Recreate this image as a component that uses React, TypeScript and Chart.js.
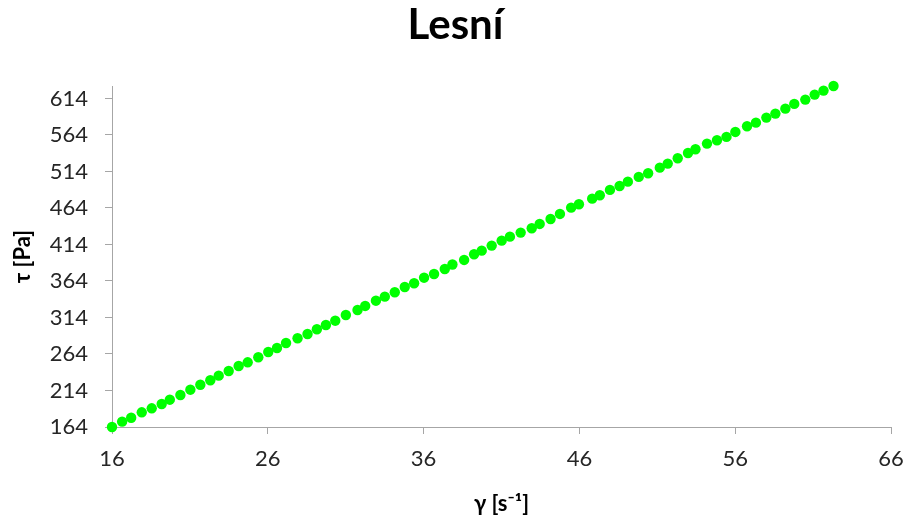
import React, { useEffect, useRef } from "react";
import { Chart, registerables } from "chart.js";

Chart.register(...registerables);

const chartTitle = "Lesní";
const xAxisTitle = "γ [s⁻¹]";
const yAxisTitle = "τ [Pa]";

const gamma = [
  16.0, 16.65, 17.23, 17.91, 18.55, 19.19, 19.71, 20.39, 21.03, 21.67,
  22.31, 22.85, 23.49, 24.13, 24.71, 25.39, 26.03, 26.59, 27.17, 27.91,
  28.55, 29.15, 29.73, 30.33, 31.01, 31.76, 32.25, 32.94, 33.51, 34.15,
  34.79, 35.39, 36.03, 36.67, 37.36, 37.85, 38.6, 39.24, 39.73, 40.37,
  41.01, 41.54, 42.23, 42.94, 43.45, 44.15, 44.75, 45.47, 45.97, 46.82,
  47.31, 47.96, 48.58, 49.11, 49.81, 50.41, 51.16, 51.67, 52.31, 52.97,
  53.45, 54.19, 54.83, 55.44, 56.01, 56.76, 57.33, 58.0, 58.58, 59.22,
  59.79, 60.5, 61.1, 61.67, 62.31,
];

const tau = [
  164.0, 171.3, 176.7, 184.1, 189.6, 195.5, 201.4, 207.8, 215.1, 221.9,
  228.0, 234.3, 240.7, 247.6, 252.6, 259.5, 266.7, 272.2, 279.1, 285.5,
  291.4, 297.8, 303.7, 309.6, 317.4, 324.3, 329.8, 337.0, 342.5, 348.5,
  355.8, 360.8, 368.5, 373.6, 380.4, 386.6, 392.8, 400.6, 405.5, 412.4,
  419.2, 424.7, 430.2, 436.2, 442.1, 448.9, 455.8, 464.4, 469.1, 476.7,
  481.4, 488.7, 494.1, 500.0, 506.5, 511.5, 519.2, 524.7, 532.1, 539.3,
  544.4, 552.1, 556.7, 561.3, 568.1, 575.9, 580.8, 587.7, 593.2, 600.0,
  606.5, 612.4, 619.2, 624.7, 631.0,
];

const xTicks = [16, 26, 36, 46, 56, 66];
const yTicks = [164, 214, 264, 314, 364, 414, 464, 514, 564, 614];

const FONT = "Lato, 'Open Sans', sans-serif";
const AXIS_GRAY = "#a6a6a6";
const TEXT = "#262626";

export default function App() {
  const ref = useRef<HTMLCanvasElement | null>(null);

  useEffect(() => {
    document.body.style.margin = "0";
    const canvas = ref.current;
    if (!canvas) return;
    const points = gamma.map((g, i) => ({ x: g, y: tau[i] }));
    const chart = new Chart(canvas, {
      type: "scatter",
      data: {
        datasets: [
          {
            label: chartTitle,
            data: points,
            backgroundColor: "#00ff00",
            borderColor: "#00ff00",
            pointRadius: 5.2,
            pointBorderWidth: 0,
            clip: false as any,
          },
        ],
      },
      options: {
        animation: false,
        responsive: false,
        layout: { padding: { left: 0, right: 0, top: 0, bottom: 0 } },
        plugins: {
          legend: { display: false },
          tooltip: { enabled: false },
          title: {
            display: true,
            text: chartTitle,
            color: "#000",
            font: { family: FONT, size: 42, weight: "bold", lineHeight: 1.2 },
            padding: { top: 0, bottom: 35.6 },
          },
        },
        scales: {
          x: {
            type: "linear",
            min: 16,
            max: 66,
            afterBuildTicks: (scale: any) => {
              scale.ticks = xTicks.map((v) => ({ value: v }));
            },
            afterFit: (scale: any) => {
              scale.height = 95;
              scale.paddingLeft = 0;
              scale.paddingRight = 20;
            },
            grid: {
              drawOnChartArea: false,
              drawTicks: true,
              tickLength: 7,
              color: AXIS_GRAY,
            },
            border: { display: true, color: AXIS_GRAY, width: 1 },
            ticks: {
              color: TEXT,
              font: { family: FONT, size: 22 },
              padding: 12,
              maxRotation: 0,
            },
            title: {
              display: true,
              text: xAxisTitle,
              color: "#000",
              font: { family: FONT, size: 22, weight: "bold", lineHeight: 1.2 },
              padding: { top: 0, bottom: 5 },
            },
          },
          y: {
            type: "linear",
            min: 164,
            max: 631,
            afterBuildTicks: (scale: any) => {
              scale.ticks = yTicks.map((v) => ({ value: v }));
            },
            afterFit: (scale: any) => {
              scale.width = 112;
            },
            grid: {
              drawOnChartArea: false,
              drawTicks: true,
              tickLength: 7,
              color: AXIS_GRAY,
            },
            border: { display: true, color: AXIS_GRAY, width: 1 },
            ticks: {
              color: TEXT,
              font: { family: FONT, size: 22 },
              padding: 17,
            },
            title: {
              display: true,
              text: yAxisTitle,
              color: "#000",
              font: { family: FONT, size: 22, weight: "bold", lineHeight: 1.2 },
              padding: { top: 10, bottom: 0 },
            },
          },
        },
      },
    });
    return () => chart.destroy();
  }, []);

  return (
    <div style={{ position: "absolute", left: 0, top: 0, width: 911, height: 522 }}>
      <canvas ref={ref} width={911} height={522} />
    </div>
  );
}
